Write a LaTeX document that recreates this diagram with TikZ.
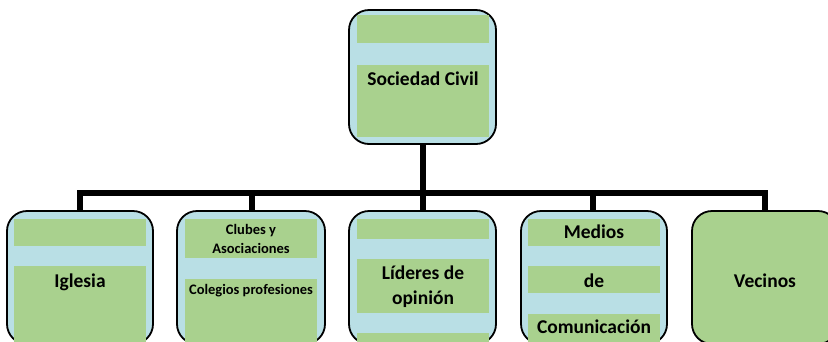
\documentclass[tikz,border=0pt]{standalone}
\usepackage{fontspec}
\setmainfont{Carlito}
\definecolor{boxblue}{HTML}{B9DFE5}
\definecolor{bandgreen}{HTML}{A9D18E}
\tikzset{
  x=1pt,y=-1pt,
  orgbox/.style={draw=black,line width=1.8pt,rounded corners=20pt,fill=boxblue,inner sep=0pt},
  band/.style={fill=bandgreen,draw=none},
  big/.style={font=\bfseries\fontsize{19.5}{24}\selectfont,anchor=base,inner sep=0pt},
  small/.style={font=\bfseries\fontsize{14.5}{18}\selectfont,anchor=base,inner sep=0pt},
  conn/.style={line width=6pt,line join=miter,line cap=butt}
}
\begin{document}
\begin{tikzpicture}
\useasboundingbox (0,0) rectangle (828,341);
\clip (0,0) rectangle (828,341);
\fill[white] (0,0) rectangle (828,341);
% top box
\draw[orgbox] (349,10) rectangle (496,144);
\coordinate (topS) at (423,144);
\fill[band] (357,15) rectangle (489,43);
\fill[band] (357,65) rectangle (489,137);
\node[big] (tSC) at (423,85) {Sociedad Civil};
% box 1
\draw[orgbox] (7,211) rectangle (153,344);
\coordinate (n1) at (80,211);
\fill[band] (14,219) rectangle (146,246);
\fill[band] (14,266) rectangle (146,342);
\node[big] (tIg) at (80,287) {Iglesia};
% box 2
\draw[orgbox] (177,211) rectangle (325,344);
\coordinate (n2) at (252,211);
\fill[band] (185,219) rectangle (317,258);
\fill[band] (185,279) rectangle (317,342);
\node[small] (tCl) at (251,234) {Clubes y};
\node[small] (tAs) at (251,253) {Asociaciones};
\node[small] (tCo) at (251,294) {Colegios profesiones};
% box 3
\draw[orgbox] (349,211) rectangle (496,344);
\coordinate (n3) at (423,211);
\fill[band] (357,219) rectangle (489,239);
\fill[band] (357,259) rectangle (489,313);
\fill[band] (357,333) rectangle (489,342);
\node[big] (tLi) at (423,279) {Líderes de};
\node[big] (tOp) at (423,304) {opinión};
% box 4
\draw[orgbox] (521,211) rectangle (667,344);
\coordinate (n4) at (593,211);
\fill[band] (528,219) rectangle (660,246);
\fill[band] (528,266) rectangle (660,293);
\fill[band] (528,314) rectangle (660,342);
\node[big] (tMe) at (594,238) {Medios};
\node[big] (tDe) at (594,287) {de};
\node[big] (tCm) at (594,333) {Comunicación};
% box 5
\draw[orgbox,fill=bandgreen] (692,211) rectangle (838,344);
\coordinate (n5) at (765,211);
\node[big] (tVe) at (765,287) {Vecinos};
% connectors
\coordinate (bus) at (423,193);
\draw[conn] (topS) -- (topS |- bus);
\draw[conn] (n1) -- (n1 |- bus) -- (n5 |- bus) -- (n5);
\draw[conn] (n2 |- bus) -- (n2);
\draw[conn] (n3 |- bus) -- (n3);
\draw[conn] (n4 |- bus) -- (n4);
\end{tikzpicture}
\end{document}
